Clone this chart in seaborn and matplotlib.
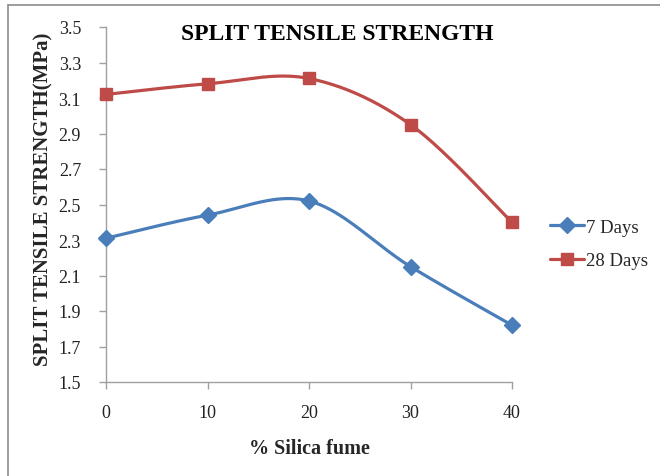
import numpy as np
import matplotlib
matplotlib.use("Agg")
import matplotlib.pyplot as plt
from matplotlib.lines import Line2D
import seaborn as sns

silica = [0, 10, 20, 30, 40]
days7 = [2.31, 2.44, 2.52, 2.15, 1.82]
days28 = [3.12, 3.18, 3.21, 2.95, 2.40]
series_names = ["7 Days", "28 Days"]
yticks = [1.5, 1.7, 1.9, 2.1, 2.3, 2.5, 2.7, 2.9, 3.1, 3.3, 3.5]
xticks = [0, 10, 20, 30, 40]

sns.set_theme(style="white")
plt.rcParams["font.family"] = ["Liberation Serif", "DejaVu Serif"]


def smooth(xs, ys, n=40):
    """Excel-style smoothed line (Catmull-Rom as cubic Bezier)."""
    P = np.column_stack([xs, ys]).astype(float)
    ext = np.vstack([P[0], P, P[-1]])
    out = []
    t = np.linspace(0, 1, n)[:, None]
    for i in range(len(P) - 1):
        p0, p1, p2, p3 = ext[i], ext[i + 1], ext[i + 2], ext[i + 3]
        c1 = p1 + (p2 - p0) / 6.0
        c2 = p2 - (p3 - p1) / 6.0
        seg = ((1 - t) ** 3) * p1 + 3 * ((1 - t) ** 2) * t * c1 + 3 * (1 - t) * t ** 2 * c2 + t ** 3 * p2
        out.append(seg if i == 0 else seg[1:])
    s = np.vstack(out)
    return s[:, 0], s[:, 1]


blue = "#4A7EBB"
red = "#BE4B48"

fig = plt.figure(figsize=(6.6, 4.77), dpi=100)
ax = fig.add_axes([106 / 660, 1 - 383 / 477, (512 - 106) / 660, (383 - 28) / 477])

for ys, col, mk, ms in [(days7, blue, "D", 8), (days28, red, "s", 8.5)]:
    sx, sy = smooth(silica, ys)
    sns.lineplot(x=sx, y=sy, sort=False, estimator=None, color=col, lw=2.3, ax=ax, clip_on=False)
    ax.plot(silica, ys, linestyle="none", marker=mk, ms=ms, color=col, clip_on=False, zorder=5)

ax.set_xlim(0, 40)
ax.set_ylim(1.5, 3.5)
ax.set_xticks(xticks)
ax.set_xticklabels([str(v) for v in xticks])
ax.set_yticks(yticks)
ax.set_yticklabels([f"{v:.1f}" for v in yticks])
for s in ["top", "right"]:
    ax.spines[s].set_visible(False)
for s in ["left", "bottom"]:
    ax.spines[s].set_color("#A0A0A0")
    ax.spines[s].set_linewidth(1.0)
ax.tick_params(axis="both", which="major", direction="out", length=5, width=1,
               color="#A0A0A0", labelsize=13, labelcolor="#222222", left=True, bottom=True)
ax.tick_params(axis="x", pad=11)
ax.tick_params(axis="y", pad=13)

ax.set_xlabel("% Silica fume", fontsize=14.5, fontweight="bold")
ax.xaxis.set_label_coords(0.5, (383 - 449) / 355)
ax.xaxis.label.set_va("center")
ax.set_ylabel("SPLIT TENSILE STRENGTH(MPa)", fontsize=15, fontweight="bold")
ax.yaxis.set_label_coords((43 - 106) / 406, 1 - (199 - 28) / 355)
ax.yaxis.label.set_va("center")
fig.text(337 / 660, 1 - 34 / 477, "SPLIT TENSILE STRENGTH", ha="center", va="center",
         fontsize=17, fontweight="bold", color="black")

handles = [Line2D([], [], color=blue, lw=2.3, marker="D", ms=8),
           Line2D([], [], color=red, lw=2.3, marker="s", ms=8.5)]
fig.legend(handles, series_names, loc="center left", bbox_to_anchor=(533 / 660, 1 - 245 / 477),
           frameon=False, fontsize=13.5, handlelength=1.8, handletextpad=0.15, labelspacing=0.85)

fig.add_artist(Line2D([8 / 660, 8 / 660], [0, 1 - 6 / 477], color="#8C8C8C", lw=1.2))
fig.add_artist(Line2D([8 / 660, 1], [1 - 6 / 477, 1 - 6 / 477], color="#8C8C8C", lw=1.2))

fig.savefig("out.png", dpi=100)
